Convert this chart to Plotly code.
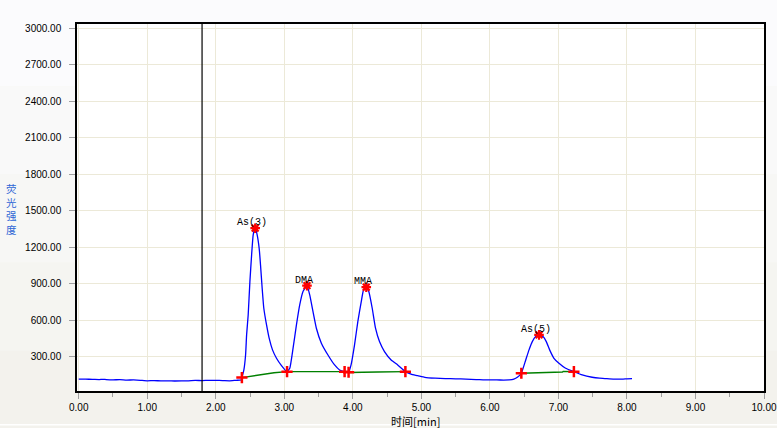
import plotly.graph_objects as go

# ---- data ----
time_min = [
    0.00, 0.10, 0.20, 0.30, 0.35, 0.40, 0.50, 0.60, 0.70, 0.80, 0.90, 1.00, 1.10, 1.20, 1.30, 1.40,
    1.50, 1.60, 1.70, 1.80, 1.90, 2.00, 2.10, 2.20, 2.30, 2.37,
    2.381, 2.410, 2.435, 2.450, 2.473, 2.498, 2.523, 2.546, 2.575, 2.604, 2.633, 2.653, 2.677,
    2.701, 2.741, 2.779, 2.828, 2.886, 2.959, 3.040,
    3.080, 3.128, 3.177, 3.225, 3.273, 3.331, 3.371, 3.419, 3.468, 3.541, 3.637, 3.734, 3.807,
    3.880, 3.938,
    3.974, 4.025, 4.073, 4.123, 4.156, 4.196, 4.233, 4.283, 4.331, 4.389, 4.462, 4.559, 4.655,
    4.767, 4.850, 4.946,
    5.05, 5.20, 5.35, 5.50, 5.65, 5.80, 5.90, 6.00, 6.10, 6.20, 6.28, 6.35, 6.401,
    6.459, 6.523, 6.571, 6.619, 6.669, 6.717, 6.775, 6.823, 6.872, 6.935, 7.008, 7.105, 7.226,
    7.347, 7.492, 7.600, 7.687, 7.800, 7.928, 8.000, 8.074,
]
intensity = [
    117, 117, 116, 114, 116, 114, 112, 113, 110, 111, 108, 104, 106, 103, 104, 102,
    103, 104, 107, 106, 108, 107, 106, 104, 108, 110,
    130, 193, 316, 481, 645, 919, 1138, 1303, 1358, 1303, 1194, 1056, 865,
    700, 563, 454, 358, 289, 229, 179,
    207, 372, 563, 727, 837, 886, 810, 672, 536, 413, 316, 234, 193,
    179, 174,
    234, 399, 590, 755, 851, 873, 837, 700, 536, 426, 344, 275, 234,
    179, 158, 146,
    132, 125, 122, 120, 118, 114, 112, 111, 111, 110, 111, 118, 133,
    166, 275, 358, 426, 467, 481, 467, 426, 358, 289, 248, 207, 179,
    152, 133, 125, 122, 118, 117, 120, 122,
]

# integration baselines (None separates peak groups)
base_t = [2.381, 2.55, 2.69, 2.85, 3.04, 3.35, 3.37, 3.88, None,
          3.938, 4.35, 4.36, 4.767, None,
          6.459, 6.72, 6.73, 7.06, 7.07, 7.226]
base_v = [130, 145, 158, 170, 179, 181, 176, 179, None,
          172, 170, 176, 179, None,
          166, 170, 174, 176, 182, 179]

# peak start / end markers
bound_t = [2.381, 3.040, 3.880, 3.938, 4.767, 6.459, 7.226]
bound_v = [130, 179, 179, 174, 179, 166, 179]

# peak apexes and names
peak_names = ["As(3)", "DMA", "MMA", "As(5)"]
peak_t = [2.575, 3.331, 4.196, 6.717]
peak_v = [1358, 886, 873, 481]

marker_line_t = 1.80

x_ticks = [0, 1, 2, 3, 4, 5, 6, 7, 8, 9, 10]
y_ticks = [300, 600, 900, 1200, 1500, 1800, 2100, 2400, 2700, 3000]

# ---- figure ----
fig = go.Figure()

fig.add_trace(go.Scatter(x=time_min, y=intensity, mode="lines",
                         line=dict(color="#0000ff", width=1.3, shape="spline", smoothing=0.4),
                         hoverinfo="skip"))
fig.add_trace(go.Scatter(x=base_t, y=base_v, mode="lines",
                         line=dict(color="#008000", width=1.3), connectgaps=False, hoverinfo="skip"))
fig.add_trace(go.Scatter(x=bound_t, y=bound_v, mode="markers",
                         marker=dict(symbol="cross-thin-open", size=8, color="#ff0000",
                                     line=dict(color="#ff0000", width=2.5)), hoverinfo="skip"))
fig.add_trace(go.Scatter(x=peak_t, y=peak_v, mode="markers",
                         marker=dict(symbol="asterisk-open", size=8, color="#ff0000",
                                     line=dict(color="#ff0000", width=2.2)), hoverinfo="skip"))

for name, t, v in zip(peak_names, peak_t, peak_v):
    fig.add_annotation(x=t, y=v, text=name, showarrow=False, xanchor="center", yanchor="bottom",
                       yshift=-2, xshift=-3,
                       font=dict(family="Liberation Mono", size=10, color="black"))

# background gradient bands (outside the plot area)
bands = ["#fbfbfd", "#f9f9f9", "#f7f7f5", "#f5f5f1", "#f3f2ed"]
n = len(bands)
for i, c in enumerate(bands):
    y_top = 1.07 - i * (1.20 / n)
    y_bot = y_top - 1.20 / n
    fig.add_shape(type="rect", xref="paper", yref="paper", x0=-0.12, x1=1.03,
                  y0=y_bot, y1=y_top, fillcolor=c, line=dict(width=0), layer="below")
# keep the plotting area white
fig.add_shape(type="rect", xref="paper", yref="paper", x0=0, x1=1, y0=0, y1=1,
              fillcolor="white", line=dict(width=0), layer="below")
# light separator line near bottom edge
fig.add_shape(type="line", xref="paper", yref="paper", x0=-0.12, x1=1.03, y0=-0.092, y1=-0.092,
              line=dict(color="#ffffff", width=1.5), layer="below")

# vertical cursor line
fig.add_shape(type="line", xref="x", yref="paper", x0=marker_line_t, x1=marker_line_t, y0=0, y1=1,
              line=dict(color="black", width=1.2))

# y axis title (vertical stacked chars)
fig.add_annotation(xref="paper", yref="paper", x=-0.096, y=0.497, text="荧<br>光<br>强<br>度",
                   showarrow=False, xanchor="center", yanchor="middle",
                   font=dict(family="Noto Sans CJK SC", size=10.5, color="#2f66d6"))

fig.add_annotation(xref="paper", yref="paper", x=0.492, y=-0.081, text="时间[min]", showarrow=False,
                   xanchor="center", yanchor="middle", borderpad=0,
                   font=dict(family="Noto Sans CJK SC, Liberation Mono", size=11, color="black"))

fig.update_layout(
    width=777, height=428,
    margin=dict(l=77, r=13, t=24, b=37, autoexpand=False),
    paper_bgcolor="#f5f5f1",
    plot_bgcolor="white",
    showlegend=False,
    font=dict(family="Liberation Sans", size=10, color="black"),
)
fig.update_xaxes(
    range=[-0.025, 10.0], tickvals=x_ticks, ticktext=[f"{v:.2f}" for v in x_ticks],
    automargin=False,
    showgrid=True, gridcolor="#ece9d8", gridwidth=1,
    ticks="outside", ticklen=6, tickcolor="#a0a0a0", tickwidth=1,
    minor=dict(dtick=0.5, tick0=0, ticks="outside", ticklen=4, tickcolor="#a0a0a0", showgrid=False),
    showline=True, linecolor="black", linewidth=1.5, mirror=True, zeroline=False,
    tickfont=dict(family="Liberation Sans", size=10, color="black"),
)
fig.update_yaxes(
    range=[20, 3036], tickvals=y_ticks, ticktext=[f"{v:.2f}" for v in y_ticks],
    automargin=False,
    showgrid=True, gridcolor="#ece9d8", gridwidth=1,
    ticks="outside", ticklen=6, tickcolor="#a0a0a0", tickwidth=1, ticklabelstandoff=6,
    showline=True, linecolor="black", linewidth=1.5, mirror=True, zeroline=False,
    tickfont=dict(family="Liberation Sans", size=10, color="black"),
)

fig.write_html("out.html", config={"displayModeBar": False},
               post_script="document.body.style.margin='0';")
